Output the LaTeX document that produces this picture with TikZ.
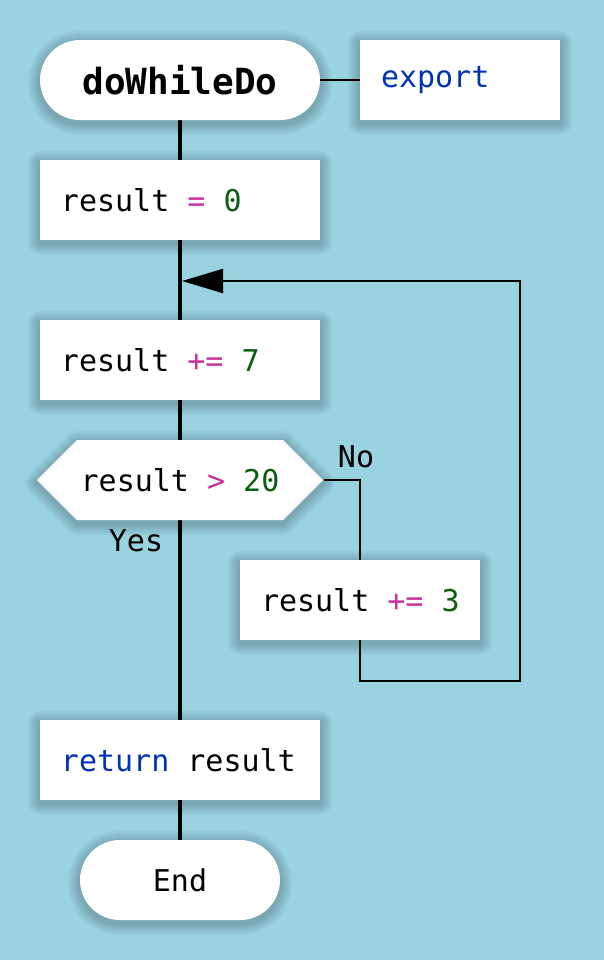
\documentclass[tikz,border=0pt]{standalone}
\usepackage{fontspec}
\setmonofont{DejaVu Sans Mono}
\usetikzlibrary{shapes.symbols,arrows.meta}
\definecolor{bg}{HTML}{99D3E0}
\definecolor{kw}{HTML}{0033B3}
\definecolor{op}{HTML}{C8309A}
\definecolor{num}{HTML}{0A5F0A}
\tikzset{
  sl/.style={preaction={draw=black, draw opacity=0.035, line width=#1, line join=round, transform canvas={yshift=-1.5pt}}},
  shade/.style={sl=12pt, sl=10pt, sl=8pt, sl=6pt, sl=4pt, sl=2pt},
  box/.style={fill=white, minimum height=40pt, minimum width=#1, inner ysep=0pt, inner xsep=10.5pt, shade},
  term/.style={fill=white, rounded corners=20pt, minimum height=40pt, minimum width=#1, inner sep=0pt, shade},
  hexa/.style={signal, signal to=west and east, signal pointer angle=90, fill=white, minimum height=40pt, minimum width=143pt, inner sep=0pt, shade},
  main/.style={line width=2pt},
  thin/.style={line width=1pt},
  lbl/.style={inner sep=0pt}
}
\newcommand{\lft}[2]{\makebox[#1][l]{#2}}
\begin{document}
\begin{tikzpicture}[x=0.5pt,y=-0.5pt,font=\ttfamily\fontsize{15}{18}\selectfont]
\fill[bg] (0,0) rectangle (604,960);
\useasboundingbox (0,0) rectangle (604,960);
\coordinate (join) at (182,281);
\coordinate (c1) at (360,681);
\coordinate (c2) at (520,681);
\coordinate (c3) at (520,281);
\coordinate (s0) at (180,120);
\coordinate (s1) at (180,840);
\draw[main] (s0) -- (s1);
\node[term=140pt, font=\ttfamily\bfseries\fontsize{18}{22}\selectfont] (start) at (180,80) {doWhileDo};
\node[box=100pt] (export) at (460,80) {\lft{79pt}{\textcolor{kw}{export}}};
\node[box=140pt] (init) at (180,200) {\lft{119pt}{result \textcolor{op}{=} \textcolor{num}{0}}};
\node[box=140pt] (add7) at (180,360) {\lft{119pt}{result \textcolor{op}{+=} \textcolor{num}{7}}};
\node[hexa] (cond) at (180,480) {result \textcolor{op}{>} \textcolor{num}{20}};
\node[box=120pt] (add3) at (360,600) {\lft{99pt}{result \textcolor{op}{+=} \textcolor{num}{3}}};
\node[box=140pt] (ret) at (180,760) {\lft{119pt}{\textcolor{kw}{return} result}};
\node[term=100pt] (end) at (180,880) {End};
\draw[thin] (start.east) -- (export.west);
\draw[thin] (cond.east) -| (add3.north);
\draw[thin, -{Triangle[length=20.5pt,width=12pt]}] (add3.south) -- (c1) -- (c2) -- (c3) -- (join);
\node[lbl] (no) at (356,457) {No};
\node[lbl] (yes) at (136,541) {Yes};
\end{tikzpicture}
\end{document}
